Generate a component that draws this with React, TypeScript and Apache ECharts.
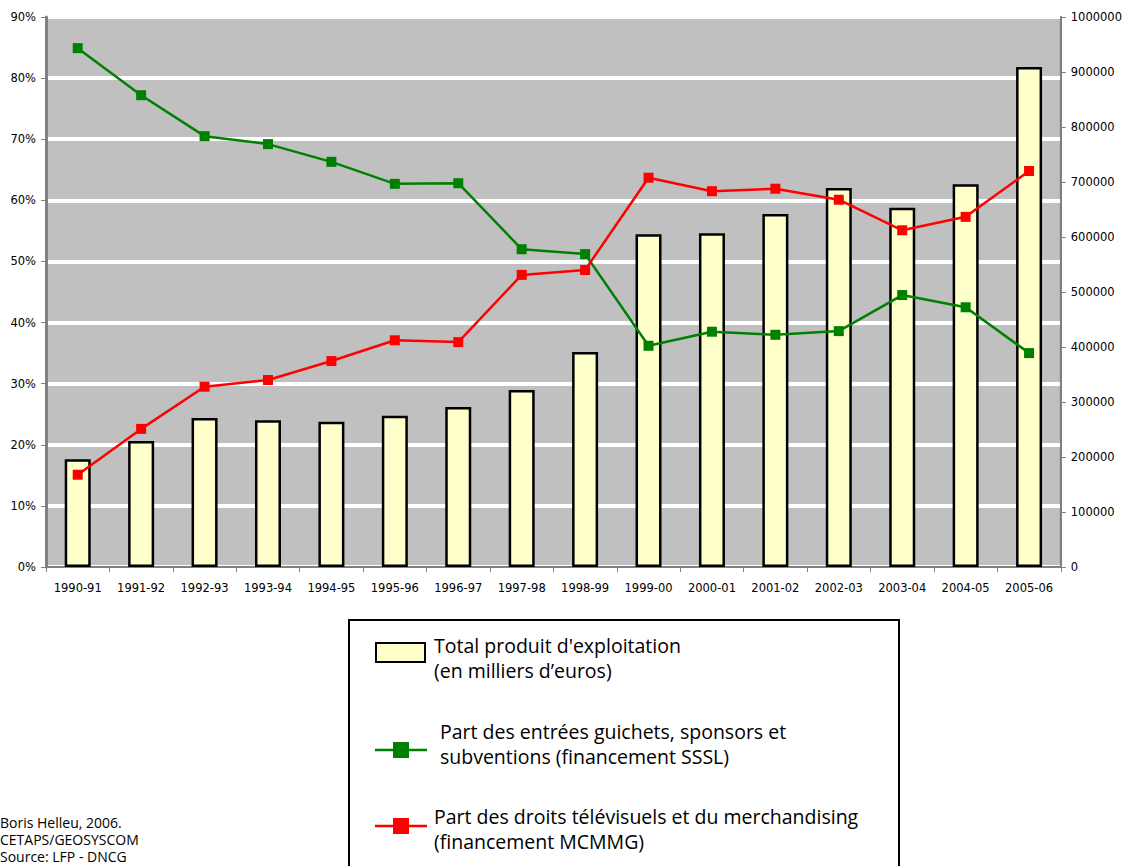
import React, { useEffect, useRef } from "react";
import * as echarts from "echarts";

const categories = ["1990-91","1991-92","1992-93","1993-94","1994-95","1995-96","1996-97","1997-98","1998-99","1999-00","2000-01","2001-02","2002-03","2003-04","2004-05","2005-06"];
const totalProduit = [196000,229000,271000,267000,264000,275000,291000,322000,391000,605000,607000,642000,689000,653000,696000,909000];
const partSSSL = [84.9,77.2,70.5,69.2,66.3,62.7,62.8,52.0,51.2,36.2,38.5,38.0,38.6,44.5,42.5,35.0];
const partMCMMG = [15.1,22.6,29.5,30.6,33.7,37.1,36.8,47.8,48.6,63.7,61.5,61.9,60.1,55.1,57.3,64.8];

const legendFont = "'Comic Sans MS', 'Open Sans', 'Noto Sans', sans-serif";
const axisFont = "Verdana, 'DejaVu Sans', sans-serif";

export default function App() {
  const ref = useRef<HTMLDivElement>(null);
  useEffect(() => {
    const chart = echarts.init(ref.current!, null, { renderer: "svg" });
    const textStyle = (x: number, y: number, t: string, size = 19.5) => ({
      type: "text",
      x,
      y,
      style: { text: t, font: `${size}px ${legendFont}`, fill: "#000", textVerticalAlign: "middle", lineHeight: size },
    });
    chart.setOption({
      animation: false,
      backgroundColor: "#ffffff",
      grid: {
        left: 46,
        right: 64,
        top: 17,
        bottom: 299,
        show: true,
        backgroundColor: "#c0c0c0",
        borderColor: "#808080",
        borderWidth: 2,
      },
      xAxis: {
        type: "category",
        data: categories,
        boundaryGap: true,
        axisLine: { lineStyle: { color: "#808080", width: 2 } },
        axisTick: { show: true, length: 5, lineStyle: { color: "#808080" } },
        axisLabel: { color: "#000", fontFamily: axisFont, fontSize: 11.5, margin: 15, interval: 0 },
      },
      yAxis: [
        {
          type: "value",
          min: 0,
          max: 90,
          interval: 10,
          position: "left",
          axisLine: { show: true, lineStyle: { color: "#808080", width: 3 } },
          axisTick: { show: true, length: 5, lineStyle: { color: "#808080" } },
          axisLabel: { color: "#000", fontFamily: axisFont, fontSize: 11.5, formatter: "{value}%", margin: 10 },
          splitLine: { show: true, lineStyle: { color: "#ffffff", width: 4 } },
        },
        {
          type: "value",
          min: 0,
          max: 1000000,
          interval: 100000,
          position: "right",
          axisLine: { show: true, lineStyle: { color: "#808080", width: 2 } },
          axisTick: { show: true, length: 5, lineStyle: { color: "#808080" } },
          axisLabel: { color: "#000", fontFamily: axisFont, fontSize: 11.5, margin: 10, formatter: (v: number) => String(v) },
          splitLine: { show: false },
        },
      ],
      series: [
        {
          name: "Total produit d'exploitation (en milliers d’euros)",
          type: "bar",
          yAxisIndex: 1,
          data: totalProduit,
          barWidth: 26,
          itemStyle: { color: "#ffffcc", borderColor: "#000", borderWidth: 2.5 },
        },
        {
          name: "Part des entrées guichets, sponsors et subventions (financement SSSL)",
          type: "line",
          yAxisIndex: 0,
          data: partSSSL,
          symbol: "rect",
          symbolSize: 10,
          lineStyle: { color: "#008000", width: 2.5 },
          itemStyle: { color: "#008000" },
        },
        {
          name: "Part des droits télévisuels et du merchandising (financement MCMMG)",
          type: "line",
          yAxisIndex: 0,
          data: partMCMMG,
          symbol: "rect",
          symbolSize: 10,
          lineStyle: { color: "#ff0000", width: 2.5 },
          itemStyle: { color: "#ff0000" },
        },
      ],
      graphic: [
        { type: "rect", shape: { x: 349, y: 620, width: 550, height: 260 }, style: { fill: "#fff", stroke: "#000", lineWidth: 2 } },
        { type: "rect", shape: { x: 376, y: 643, width: 49, height: 19 }, style: { fill: "#ffffcc", stroke: "#000", lineWidth: 2 } },
        textStyle(434, 645, "Total produit d'exploitation"),
        textStyle(434, 670, "(en milliers d’euros)"),
        { type: "line", shape: { x1: 375, y1: 750, x2: 427, y2: 750 }, style: { stroke: "#008000", lineWidth: 2.5 } },
        { type: "rect", shape: { x: 393, y: 742, width: 16, height: 16 }, style: { fill: "#008000" } },
        textStyle(440, 731, "Part des entrées guichets, sponsors et"),
        textStyle(440, 756, "subventions (financement SSSL)"),
        { type: "line", shape: { x1: 375, y1: 826, x2: 427, y2: 826 }, style: { stroke: "#ff0000", lineWidth: 2.5 } },
        { type: "rect", shape: { x: 393, y: 818, width: 16, height: 16 }, style: { fill: "#ff0000" } },
        textStyle(434, 816, "Part des droits télévisuels et du merchandising"),
        textStyle(434, 841, "(financement MCMMG)"),
        textStyle(0, 822, "Boris Helleu, 2006.", 14),
        textStyle(0, 839, "CETAPS/GEOSYSCOM", 14),
        textStyle(0, 856, "Source: LFP - DNCG", 14),
      ],
    });
    return () => chart.dispose();
  }, []);
  return (
    <div
      ref={ref}
      style={{ position: "fixed", left: 0, top: 0, width: 1125, height: 866, background: "#fff" }}
    />
  );
}
